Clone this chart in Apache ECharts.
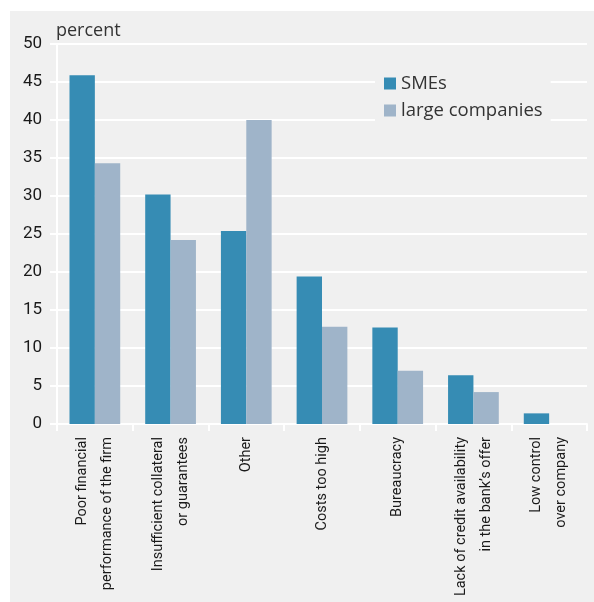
<!DOCTYPE html>
<html>
<head>
<meta charset="utf-8">
<script src="https://cdn.jsdelivr.net/npm/echarts@6/dist/echarts.min.js"></script>
<style>
  html, body { margin: 0; padding: 0; background: #ffffff; }
  #panel { position: absolute; left: 10px; top: 11px; width: 584px; height: 591px; background: #f0f0f0; }
  #chart { position: absolute; left: 0; top: 0; width: 594px; height: 602px; }
</style>
</head>
<body>
<div id="panel"></div>
<div id="chart"></div>
<script>
// Reasons for credit refusal, share of respondents (percent)
const categories = [
  'Poor financial\nperformance of the firm',
  'Insufficient collateral\nor guarantees',
  'Other',
  'Costs too high',
  'Bureaucracy',
  'Lack of credit availability\nin the bank\u2019s offer',
  'Low control\nover company'
];
const smeValues = [45.9, 30.2, 25.4, 19.4, 12.7, 6.4, 1.4];
const largeValues = [34.3, 24.2, 40.0, 12.8, 7.0, 4.2, 0];
const seriesNames = ['SMEs', 'large companies'];

const narrow = 'Roboto, "Liberation Sans", sans-serif';
const regular = '"Open Sans", "Noto Sans", sans-serif';

const chart = echarts.init(document.getElementById('chart'), null, { renderer: 'canvas' });
chart.setOption({
  animation: false,
  backgroundColor: 'transparent',
  title: {
    text: 'percent',
    left: 56,
    top: 22,
    padding: 0,
    textStyle: { fontFamily: regular, fontSize: 18, fontWeight: 'normal', color: '#333333' }
  },
  legend: {
    data: seriesNames,
    orient: 'vertical',
    left: 375,
    top: 69,
    padding: [5, 8, 6, 9],
    itemGap: 8,
    itemWidth: 12,
    itemHeight: 12,
    icon: 'rect',
    backgroundColor: '#f0f0f0',
    textStyle: { fontFamily: regular, fontSize: 18.5, color: '#333333' }
  },
  grid: { left: 57, right: 7, top: 44, bottom: 178, outerBoundsMode: 'none', containLabel: false },
  xAxis: {
    type: 'category',
    data: categories,
    axisLine: { lineStyle: { color: '#ffffff', width: 2 } },
    axisTick: { show: true, length: 7, lineStyle: { color: '#ffffff', width: 2 } },
    axisLabel: {
      interval: 0,
      rotate: 90,
      margin: 13,
      fontFamily: narrow,
      fontSize: 14.5,
      lineHeight: 25,
      color: '#1a1a1a'
    },
    splitLine: { show: false }
  },
  yAxis: {
    type: 'value',
    min: 0,
    max: 50,
    interval: 5,
    axisLine: { show: true, lineStyle: { color: '#ffffff', width: 2 } },
    axisTick: { show: true, length: 7, lineStyle: { color: '#ffffff', width: 2 } },
    axisLabel: {
      margin: 15,
      fontFamily: narrow,
      fontSize: 17,
      color: '#1a1a1a'
    },
    splitLine: { show: true, lineStyle: { color: '#ffffff', width: 2 } }
  },
  series: [
    {
      name: seriesNames[0],
      type: 'bar',
      data: smeValues,
      barGap: '0%',
      barCategoryGap: '33%',
      itemStyle: { color: '#368cb4' }
    },
    {
      name: seriesNames[1],
      type: 'bar',
      data: largeValues,
      itemStyle: { color: '#9fb4c9' }
    }
  ]
});
</script>
</body>
</html>
